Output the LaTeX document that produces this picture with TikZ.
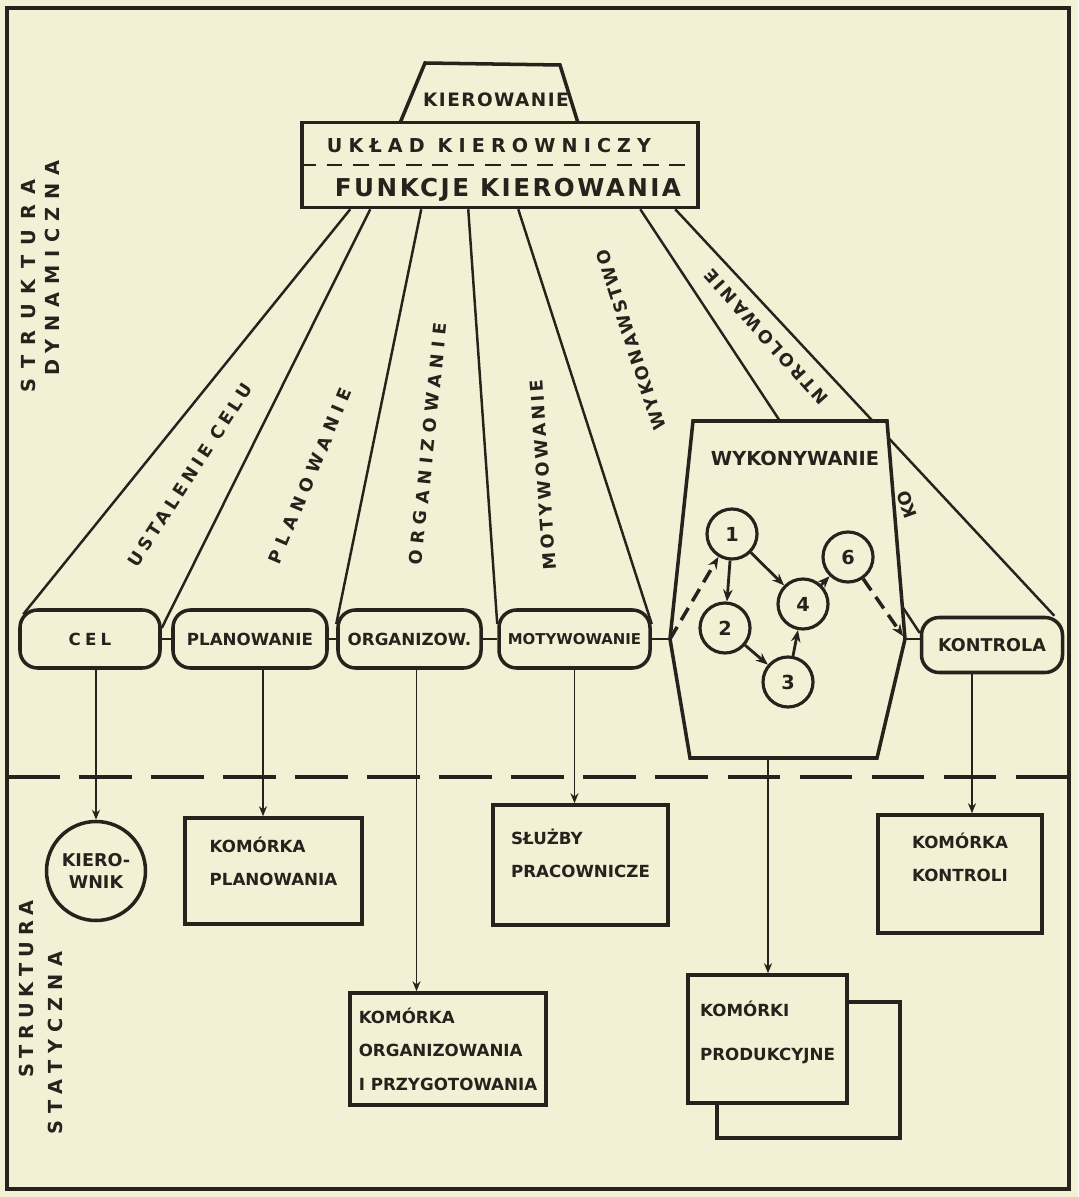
\documentclass[tikz,border=0pt]{standalone}
\usepackage{fontspec}
\setmainfont{DejaVu Sans}
\usepackage{xcolor}
\usetikzlibrary{arrows.meta,calc}
\definecolor{paper}{RGB}{244,240,214}
\definecolor{ink}{RGB}{38,34,28}
\newcommand{\lsp}[2]{{\addfontfeature{LetterSpace=#1}#2}}

\begin{document}
\begin{tikzpicture}[
  color=ink,
  rowbox/.style={draw, line width=2pt, rounded corners=10pt, minimum height=1.16cm,
    inner sep=1pt, font=\fontsize{9.5}{11}\selectfont\bfseries},
  cellbox/.style={draw, line width=2pt, fill=paper, align=left,
    font=\fontsize{9.5}{19}\selectfont\bfseries},
  event/.style={circle, draw, line width=1.8pt, fill=paper, minimum size=1cm,
    inner sep=0pt, font=\fontsize{11}{12}\selectfont\bfseries},
  fan/.style={line width=1.4pt},
  func/.style={inner sep=0pt, font=\fontsize{10}{12}\selectfont\bfseries},
  link/.style={line width=1.1pt},
  arr/.style={-{Stealth[length=2mm,width=1.6mm]}, line width=1.1pt},
  garr/.style={-{Stealth[length=2.4mm,width=1.9mm]}, line width=1.6pt},
  dasharr/.style={garr, line width=2pt, dash pattern=on 8pt off 4.5pt}
]
\useasboundingbox (0,0) rectangle (21.56,-23.94);
\fill[paper] (0,0) rectangle (21.56,-23.94);

% Frame and divider
\draw[line width=2.4pt] (0.14,-0.16) rectangle (21.38,-23.78);
\draw[line width=2.6pt, dash pattern=on 30pt off 11pt] (0.14,-15.54) -- (21.38,-15.54);

% Side titles
\node[func, rotate=90, font=\fontsize{11}{12}\selectfont\bfseries] (sdyn1) at (0.56,-5.72) {\lsp{53}{STRUKTURA}};
\node[func, rotate=90, font=\fontsize{11}{12}\selectfont\bfseries] (sdyn2) at (1.04,-5.36) {\lsp{40}{DYNAMICZNA}};
\node[func, rotate=90, font=\fontsize{11}{12}\selectfont\bfseries] (sstat1) at (0.52,-19.78) {\lsp{30}{STRUKTURA}};
\node[func, rotate=90, font=\fontsize{11}{12}\selectfont\bfseries] (sstat2) at (1.1,-20.86) {\lsp{37}{STATYCZNA}};

% Kierowanie
\draw[line width=2pt] (8.0,-2.46) -- (8.5,-1.26) -- (11.2,-1.3) -- (11.56,-2.46);
\node[func, font=\fontsize{10.5}{12}\selectfont\bfseries] (kierowanie) at (9.92,-2.0) {\lsp{8}{KIEROWANIE}};

% Uklad kierowniczy
\node[draw, line width=2pt, minimum width=7.92cm, minimum height=1.7cm, inner sep=0pt] (box) at (10.0,-3.3) {};
\draw[line width=1.6pt, dash pattern=on 9pt off 6pt] (box.west) -- (box.east);
\node[func, font=\fontsize{10.9}{12}\selectfont\bfseries] (uklad) at (9.78,-2.92) {\lsp{32}{UKŁAD KIEROWNICZY}};
\node[func, font=\fontsize{14}{16}\selectfont\bfseries] (funkcje) at (10.16,-3.8) {\lsp{10}{FUNKCJE KIEROWANIA}};

% Functions
\node[rowbox, minimum width=2.8cm] (cel) at (1.8,-12.78) {\lsp{25}{CEL}};
\node[rowbox, minimum width=3.08cm] (plan) at (5.0,-12.78) {PLANOWANIE};
\node[rowbox, minimum width=2.86cm] (org) at (8.19,-12.78) {ORGANIZOW.};
\node[rowbox, minimum width=3.02cm, font=\fontsize{8.5}{10}\selectfont\bfseries] (mot) at (11.49,-12.78) {MOTYWOWANIE};
\node[rowbox, minimum width=2.82cm, minimum height=1.1cm, font=\fontsize{10}{11}\selectfont\bfseries] (kon) at (19.84,-12.9) {KONTROLA};

% Fan of functions
\draw[fan] ([xshift=1.0cm]box.south west) -- ([xshift=0.1cm,yshift=-0.12cm]cel.north west);
\draw[fan] ([xshift=1.4cm]box.south west) -- ([yshift=0.22cm]cel.east);
\draw[fan] ([xshift=2.42cm]box.south west) -- ([yshift=0.3cm]org.west);
\draw[fan] ([xshift=3.36cm]box.south west) -- ([yshift=0.3cm]mot.west);
\draw[fan] ([xshift=4.36cm]box.south west) -- ([yshift=0.3cm]mot.east);
\draw[fan] ([xshift=6.8cm]box.south west) -- ([yshift=0.24cm]kon.west);
\draw[fan] ([xshift=7.5cm]box.south west) -- ([xshift=-0.2cm]kon.north east);

\node[func, rotate=57] (fcel) at (3.8,-9.5) {\lsp{24}{USTALENIE CELU}};
\node[func, rotate=67] (fplan) at (6.2,-9.52) {\lsp{35}{PLANOWANIE}};
\node[func, rotate=84] (forg) at (8.56,-8.88) {\lsp{34}{ORGANIZOWANIE}};
\node[func, rotate=94] (fmot) at (10.86,-9.5) {\lsp{19}{MOTYWOWANIE}};
\node[func, rotate=108] (fwyk) at (12.62,-6.8) {\lsp{13}{WYKONAWSTWO}};
\node[func, rotate=132] (fkon) at (15.32,-6.74) {\lsp{16}{NTROLOWANIE}};
\node[func, rotate=110] (fko) at (18.14,-10.1) {KO};

% Wykonywanie
\coordinate (wykL) at (13.4,-12.78);
\coordinate (wykR) at (18.1,-12.78);
\coordinate (wykB) at (15.36,-15.16);
\filldraw[fill=paper, line width=2pt] (13.86,-8.42) -- (17.74,-8.42) -- (wykR)
  -- (17.54,-15.16) -- (13.8,-15.16) -- (wykL) -- cycle;
\node[func, font=\fontsize{11}{12}\selectfont\bfseries] (wyk) at (15.9,-9.16) {WYKONYWANIE};

\node[event] (n1) at (14.64,-10.68) {1};
\node[event] (n2) at (14.5,-12.56) {2};
\node[event] (n3) at (15.76,-13.64) {3};
\node[event] (n4) at (16.06,-12.08) {4};
\node[event] (n6) at (16.96,-11.14) {6};

\draw[garr] (n1) -- (n2);
\draw[garr] (n1) -- (n4);
\draw[garr] (n2) -- (n3);
\draw[garr] (n3) -- (n4);
\draw[garr] (n4) -- (n6);
\draw[dasharr] (wykL) -- (n1);
\draw[dasharr, shorten >=2pt] (n6) -- (wykR);

\draw[link] (cel.east) -- (plan.west);
\draw[link] (plan.east) -- (org.west);
\draw[link] (org.east) -- (mot.west);
\draw[link] (mot.east) -- (wykL);
\draw[link] (wykR) -- (wykR -| kon.west);

% Static structure
\node[circle, draw, line width=2pt, minimum size=1.98cm, align=center, inner sep=0pt,
  font=\fontsize{10}{12}\selectfont\bfseries] (kierownik) at (1.92,-17.42) {KIERO-\\WNIK};
\node[cellbox, minimum width=3.54cm, minimum height=2.12cm, text depth=0.4cm] (kplan) at (5.47,-17.42) {KOMÓRKA\\PLANOWANIA};
\node[cellbox, minimum width=3.5cm, minimum height=2.4cm, text depth=0.48cm] (sluzby) at (11.61,-17.3) {SŁUŻBY\\PRACOWNICZE};
\node[cellbox, minimum width=3.92cm, minimum height=2.24cm] (korg) at (8.96,-20.98) {KOMÓRKA\\ORGANIZOWANIA\\I PRZYGOTOWANIA};
\node[cellbox, minimum width=3.66cm, minimum height=2.72cm] (kprod2) at (16.17,-21.4) {};
\node[cellbox, minimum width=3.18cm, minimum height=2.56cm, text depth=0.32cm,
  font=\fontsize{9.5}{25}\selectfont\bfseries] (kprod) at (15.35,-20.78) {KOMÓRKI\\PRODUKCYJNE};
\node[cellbox, minimum width=3.28cm, minimum height=2.36cm, text depth=0.68cm] (kkon) at (19.2,-17.48) {KOMÓRKA\\KONTROLI};

\coordinate (pd) at ([xshift=0.26cm]plan.south);
\coordinate (od) at ([xshift=0.14cm]org.south);
\coordinate (kd) at ([xshift=-0.4cm]kon.south);

\draw[arr] (kierownik.north |- cel.south) -- (kierownik.north);
\draw[arr] (pd) -- (pd |- kplan.north);
\draw[arr] (od) -- (od |- korg.north);
\draw[arr] (mot.south) -- (mot.south |- sluzby.north);
\draw[arr] (wykB) -- (wykB |- kprod.north);
\draw[arr] (kd) -- (kd |- kkon.north);

\end{tikzpicture}
\end{document}
